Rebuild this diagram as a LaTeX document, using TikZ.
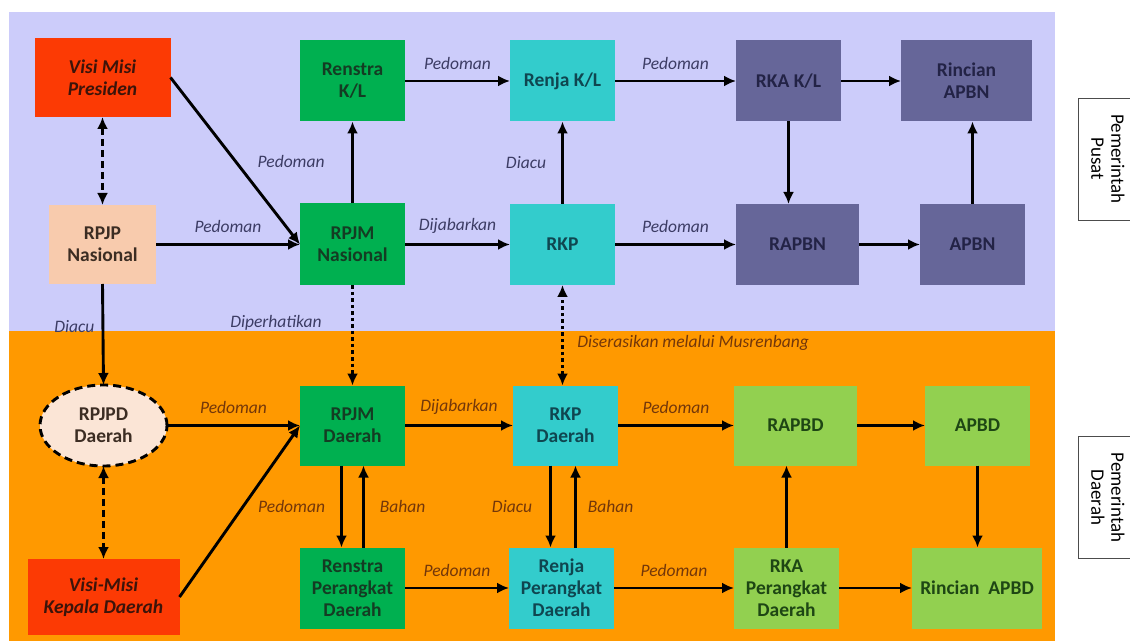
\documentclass[tikz,border=0pt]{standalone}
\usepackage{fontspec}
\setmainfont{Carlito}
\usetikzlibrary{positioning,shapes.geometric,arrows.meta}

\definecolor{lavender}{RGB}{204,204,250}
\definecolor{oranje}{RGB}{255,153,0}
\definecolor{merah}{RGB}{252,58,4}
\definecolor{peach}{RGB}{248,203,173}
\definecolor{peachlt}{RGB}{251,229,214}
\definecolor{hijau}{RGB}{0,176,80}
\definecolor{tosca}{RGB}{51,204,204}
\definecolor{slate}{RGB}{102,102,153}
\definecolor{hijaumuda}{RGB}{146,208,80}
\definecolor{labN}{RGB}{60,60,100}
\definecolor{labD}{RGB}{115,55,10}

\begin{document}
\begin{tikzpicture}[x=1pt,y=-1pt,line width=2.9pt,>={Latex[length=12pt,width=11pt]},
	box/.style={rectangle,minimum width=105pt,minimum height=81pt,inner sep=2pt,outer sep=0pt,align=center,
		font=\fontsize{19.5}{22}\selectfont\bfseries},
	nas/.style={box,fill=hijau,text={rgb,255:red,20;green,60;blue,35}},
	kl/.style={box,fill=tosca,text={rgb,255:red,15;green,70;blue,80}},
	apbn/.style={box,fill=slate,text={rgb,255:red,35;green,35;blue,70}},
	apbd/.style={box,fill=hijaumuda,text={rgb,255:red,30;green,70;blue,20}},
	visi/.style={box,fill=merah,text={rgb,255:red,60;green,20;blue,10},font=\fontsize{19.5}{22}\selectfont\bfseries\itshape},
	rpjp/.style={box,fill=peach,text={rgb,255:red,60;green,45;blue,35}},
	lbl/.style={font=\fontsize{17.5}{20}\selectfont\itshape,text=labN,inner sep=1pt},
	lblD/.style={lbl,text=labD},
	dasharr/.style={<->,dash pattern=on 7pt off 4pt},
	dotarr/.style={dash pattern=on 3.5pt off 3pt,line width=3.8pt},
	side/.style={draw=black!70,line width=0.8pt,rotate=-90,minimum width=122pt,minimum height=60pt,
		align=center,font=\fontsize{19}{20}\selectfont}]
	\useasboundingbox (0,0) rectangle (1130,644);
	
	% panels
	\fill[lavender] (9,12) rectangle (1055,331);
	\fill[oranje] (9,331) rectangle (1055,641);
	
	% pemerintah pusat
	\node[nas] (renstra) at (352.5,81) {Renstra\\K/L};
	\node[kl,right=105pt of renstra] (renja) {Renja K/L};
	\node[apbn,right=121pt of renja] (rkakl) {RKA K/L};
	\node[apbn,right=60pt of rkakl,minimum width=131pt] (rincianN) {Rincian\\APBN};
	\node[nas,below=82pt of renstra,minimum height=82pt] (rpjmN) {RPJM\\Nasional};
	\node[kl,right=105pt of rpjmN] (rkp) {RKP};
	\node[apbn,right=121pt of rkp,minimum width=123pt] (rapbn) {RAPBN};
	\node[apbn,right=61pt of rapbn] (apbnN) {APBN};
	\node[rpjp,left=144pt of rpjmN,minimum width=107pt,minimum height=79pt] (rpjp) {RPJP\\Nasional};
	\node[visi,above=88pt of rpjp,minimum width=136pt,minimum height=79pt] (visi) {Visi Misi\\Presiden};
	
	% pemerintah daerah
	\node[nas,below=100pt of rpjmN,minimum height=80pt] (rpjmD) {RPJM\\Daerah};
	\node[kl,right=108pt of rpjmD,minimum height=80pt] (rkpD) {RKP\\Daerah};
	\node[apbd,right=116pt of rkpD,minimum width=123pt,minimum height=80pt] (rapbd) {RAPBD};
	\node[apbd,right=68pt of rapbd,minimum height=80pt] (apbd) {APBD};
	\node[nas,below=82pt of rpjmD] (renstraD) {Renstra\\Perangkat\\Daerah};
	\node[kl,right=104pt of renstraD] (renjaD) {Renja\\Perangkat\\Daerah};
	\node[apbd,right=120pt of renjaD] (rkaD) {RKA\\Perangkat\\Daerah};
	\node[apbd,right=73pt of rkaD,minimum width=130pt] (rincianD) {Rincian~~APBD};
	\node[rpjp,ellipse,fill=peachlt,draw=black,dash pattern=on 8pt off 5pt,left=133pt of rpjmD,
		minimum width=127pt,minimum height=81pt] (rpjpD) {RPJPD\\Daerah};
	\node[visi,below=93pt of rpjpD,minimum width=152pt,minimum height=76pt] (visiD) {Visi-Misi\\Kepala Daerah};
	
	% keterangan samping
	\node[side] (pusat) at (1108,159) {Pemerintah\\Pusat};
	\node[side] (daerah) at (1108,497.5) {Pemerintah\\Daerah};
	
	% panah pusat
	\draw[->] (visi.east) -- (rpjmN.west) node[lbl,midway,right=20pt] {Pedoman};
	\draw[dasharr] (visi.south) -- (rpjp.north);
	\draw[->] (rpjp.east) -- (rpjmN.west) node[lbl,midway,above=9pt] {Pedoman};
	\draw[->] (rpjmN.north) -- (renstra.south);
	\draw[->] (renstra.east) -- (renja.west) node[lbl,midway,above=9pt] {Pedoman};
	\draw[->] (renja.east) -- (rkakl.west) node[lbl,midway,above=9pt] {Pedoman};
	\draw[->] (rkakl.east) -- (rincianN.west);
	\draw[->] (rpjmN.east) -- (rkp.west) node[lbl,midway,above=9pt] {Dijabarkan};
	\draw[->] (rkp.north) -- (renja.south) node[lbl,midway,left=14pt] {Diacu};
	\draw[->] (rkp.east) -- (rapbn.west) node[lbl,midway,above=9pt] {Pedoman};
	\draw[->] (rkakl.south) -- (rkakl |- rapbn.north);
	\draw[->] (rapbn.east) -- (apbnN.west);
	\draw[->] (apbnN.north) -- (apbnN |- rincianN.south);
	
	% panah pusat ke daerah
	\draw[->] (rpjp.south) -- (rpjpD.north) node[lbl,pos=0.42,left=6pt] {Diacu};
	\draw[->,dotarr] (rpjmN.south) -- (rpjmD.north) node[lbl,pos=0.37,left=28pt] {Diperhatikan};
	\draw[<->,dotarr] (rkpD.north -| rkp.south) -- (rkp.south)
		node[lblD,pos=0.42,right=12pt] {Diserasikan melalui Musrenbang};
	
	% panah daerah
	\draw[->] (rpjpD.east) -- (rpjmD.west) node[lblD,midway,above=9pt] {Pedoman};
	\draw[->] (visiD.east) -- (rpjmD.west);
	\draw[dasharr] (rpjpD.south) -- (visiD.north);
	\draw[->] ([xshift=-11pt]rpjmD.south) -- ([xshift=-11pt]renstraD.north) node[lblD,midway,left=14pt] {Pedoman};
	\draw[->] ([xshift=11pt]renstraD.north) -- ([xshift=11pt]rpjmD.south) node[lblD,midway,right=14pt] {Bahan};
	\draw[->] (rpjmD.east) -- (rkpD.west) node[lblD,midway,above=9pt] {Dijabarkan};
	\draw[->] ([xshift=-15pt]rkpD.south) -- ([xshift=-15pt]rkpD.south |- renjaD.north) node[lblD,midway,left=16pt] {Diacu};
	\draw[->] ([xshift=10pt]rkpD.south |- renjaD.north) -- ([xshift=10pt]rkpD.south) node[lblD,midway,right=10pt] {Bahan};
	\draw[->] (rkpD.east) -- (rapbd.west) node[lblD,midway,above=9pt] {Pedoman};
	\draw[->] (rapbd.east) -- (apbd.west);
	\draw[->] (renstraD.east) -- (renjaD.west) node[lblD,midway,above=9pt] {Pedoman};
	\draw[->] (renjaD.east) -- (rkaD.west) node[lblD,midway,above=9pt] {Pedoman};
	\draw[->] (rkaD.north) -- (rkaD |- rapbd.south);
	\draw[->] (apbd.south) -- (apbd |- rincianD.north);
	\draw[->] (rkaD.east) -- (rincianD.west);
\end{tikzpicture}
\end{document}
